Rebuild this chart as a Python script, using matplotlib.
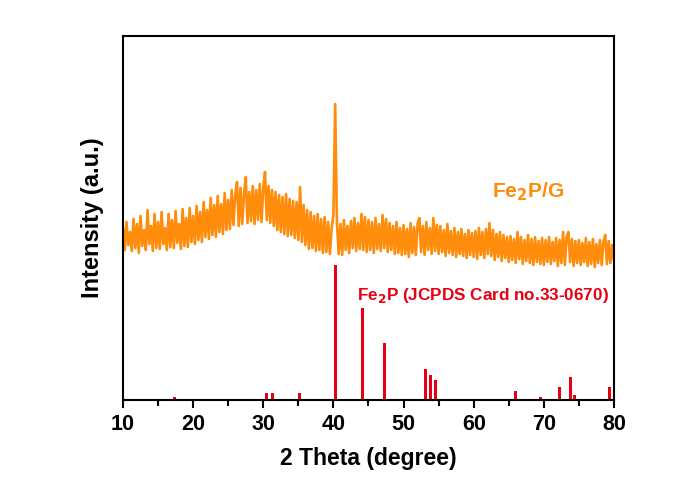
import numpy as np
import matplotlib
matplotlib.use("Agg")
import matplotlib.pyplot as plt

# measured trace, 0.25 degree steps from 10 to 80 (a.u.)
two_theta_start = 10.0
two_theta_step = 0.25
intensity = [
    172, 150, 178, 155, 168, 149, 181, 152, 176, 147, 184, 154, 170, 150, 190, 156, 174, 149, 186, 152,
    178, 151, 188, 156, 172, 150, 186, 153, 180, 152, 189, 157, 176, 151, 191, 154, 182, 153, 192, 158,
    184, 156, 194, 160, 188, 158, 198, 163, 190, 161, 202, 165, 195, 163, 204, 168, 196, 166, 207, 170,
    200, 171, 210, 175, 205, 218, 174, 212, 176, 206, 223, 177, 208, 179, 214, 176, 210, 180, 216, 178,
    212, 228, 180, 214, 177, 210, 174, 208, 170, 205, 168, 203, 166, 206, 164, 201, 165, 199, 162, 198,
    160, 213, 158, 195, 155, 190, 151, 188, 152, 184, 149, 186, 150, 181, 147, 183, 148, 178, 146, 172,
    185, 296, 178, 146, 176, 145, 180, 150, 174, 147, 179, 152, 182, 149, 177, 151, 186, 150, 183, 148,
    180, 150, 178, 147, 182, 151, 176, 149, 185, 152, 181, 148, 177, 150, 174, 146, 178, 147, 172, 145,
    175, 146, 171, 143, 177, 147, 173, 145, 176, 182, 148, 174, 145, 178, 150, 172, 146, 182, 149, 175,
    146, 174, 148, 170, 144, 176, 147, 169, 145, 172, 143, 168, 146, 171, 144, 166, 142, 170, 145, 167,
    143, 169, 141, 172, 145, 168, 142, 171, 146, 177, 144, 170, 140, 166, 143, 168, 139, 165, 142, 163,
    138, 164, 140, 161, 137, 168, 141, 163, 136, 160, 139, 165, 137, 161, 135, 163, 138, 159, 136, 162,
    135, 160, 138, 163, 136, 158, 139, 162, 134, 160, 137, 168, 135, 163, 168, 138, 161, 134, 159, 137,
    160, 135, 157, 138, 162, 134, 158, 136, 161, 133, 156, 137, 160, 135, 158, 165, 136, 159, 137, 155,
    140,
]

# Fe2P reference card 33-0670 (same a.u. scale)
ref_pos = [17.4, 26.0, 30.4, 31.3, 35.2, 40.3, 44.2, 47.3, 53.1, 53.8, 54.5,
           62.6, 63.1, 65.5, 66.0, 69.5, 72.3, 73.8, 74.4, 79.3]
ref_int = [3, 1, 7, 7, 7, 135, 92, 57, 31, 25, 20,
           1, 1, 1, 9, 3, 13, 23, 5, 13]

orange = "#FF8C0A"
red = "#E60012"

plt.rcParams['font.family'] = ['Liberation Sans', 'DejaVu Sans']
plt.rcParams['font.weight'] = 'bold'
plt.rcParams['mathtext.default'] = 'bf'

fig = plt.figure(figsize=(6.86, 4.83), dpi=100)
ax = fig.add_axes([0.1793, 0.1718, 0.7157, 0.7537])

x = two_theta_start + two_theta_step * np.arange(len(intensity))
ax.plot(x, intensity, color=orange, lw=1.9, solid_joinstyle='round')
ax.bar(ref_pos, ref_int, width=0.42, color=red, linewidth=0)

ax.text(62.6, 208, "Fe$_2$P/G", color=orange, fontsize=15,
        fontweight='bold', va='center', ha='left')
ax.text(43.4, 105, "Fe$_2$P (JCPDS Card no.33-0670)", color=red,
        fontsize=12.3, fontweight='bold', va='center', ha='left')

ax.set_xlim(10, 80)
ax.set_ylim(0, 364)
ax.set_xticks(range(10, 81, 10))
ax.set_xticks(range(15, 80, 10), minor=True)
ax.set_yticks([])
ax.tick_params(axis='x', which='major', length=6, width=1.5, labelsize=15.5, pad=4)
ax.tick_params(axis='x', which='minor', length=4, width=1.5)
for lbl in ax.get_xticklabels():
    lbl.set_fontweight('bold')
for s in ax.spines.values():
    s.set_linewidth(1.5)

ax.set_xlabel("2 Theta (degree)", fontsize=16.5, fontweight='bold', labelpad=9)
ax.set_ylabel("Intensity (a.u.)", fontsize=17, fontweight='bold', labelpad=14)

fig.savefig("out.png", dpi=100)
